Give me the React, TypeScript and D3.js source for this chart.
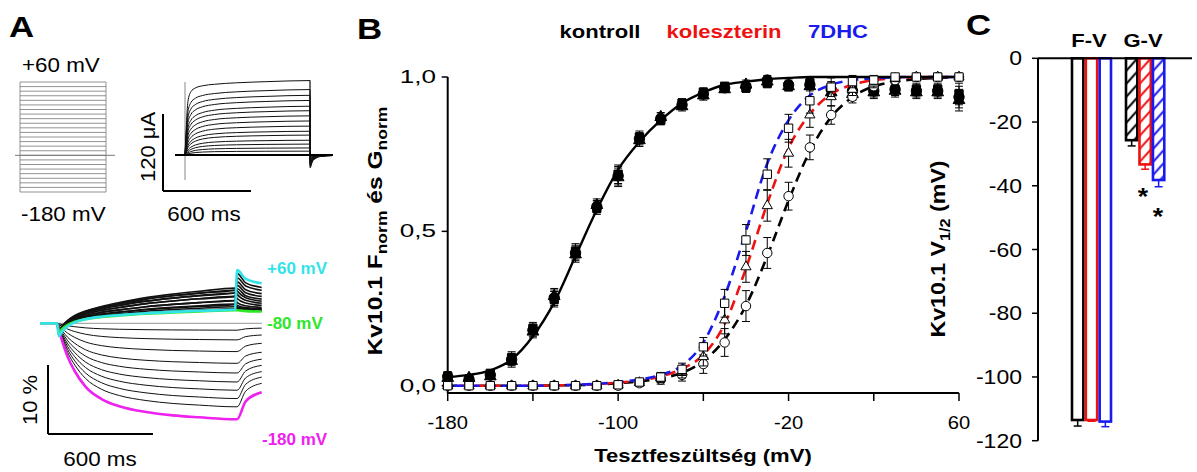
import React from "react";
import * as d3 from "d3";

const FONT = "'Liberation Sans', Arial, sans-serif";
const RED = "#ee1111";
const BLUE = "#1a1aee";
const CYAN = "#33e3ea";
const GREEN = "#2ee62a";
const MAGENTA = "#ee22ee";

// ---------- panel B: F-V and G-V ----------
const voltages = [-180, -170, -160, -150, -140, -130, -120, -110, -100, -90, -80, -70, -60, -50, -40, -30, -20, -10, 0, 10, 20, 30, 40, 50, 60];
const fvKontroll = [0.03, 0.02, 0.035, 0.085, 0.18, 0.285, 0.43, 0.58, 0.68, 0.8, 0.865, 0.91, 0.945, 0.965, 0.97, 0.99, 0.975, 0.975, 0.96, 0.955, 0.955, 0.96, 0.955, 0.955, 0.935];
const fvKoleszterin = [0.025, 0.025, 0.03, 0.08, 0.175, 0.29, 0.425, 0.585, 0.675, 0.795, 0.87, 0.905, 0.94, 0.96, 0.975, 0.985, 0.97, 0.97, 0.95, 0.945, 0.95, 0.955, 0.95, 0.95, 0.925];
const fv7dhc = [0.03, 0.02, 0.04, 0.09, 0.185, 0.28, 0.435, 0.575, 0.685, 0.805, 0.86, 0.915, 0.95, 0.97, 0.965, 0.98, 0.97, 0.98, 0.965, 0.96, 0.96, 0.96, 0.96, 0.96, 0.945];
const fvErr = [0.015, 0.01, 0.01, 0.02, 0.02, 0.025, 0.025, 0.02, 0.03, 0.02, 0.015, 0.015, 0.015, 0.01, 0.015, 0.015, 0.015, 0.015, 0.02, 0.02, 0.02, 0.02, 0.02, 0.02, 0.035];

const gvKontroll = [0, 0, 0, 0, 0, 0, 0, 0, 0, 0.008, 0.02, 0.035, 0.07, 0.14, 0.258, 0.43, 0.614, 0.772, 0.877, 0.936, 0.97, 0.99, 1, 1, 1];
const gvKoleszterin = [0, 0, 0, 0, 0, 0, 0, 0, 0.002, 0.01, 0.025, 0.045, 0.094, 0.213, 0.385, 0.583, 0.753, 0.877, 0.936, 0.96, 0.98, 0.995, 1, 1, 1];
const gv7dhc = [0, 0, 0, 0, 0, 0, 0, 0, 0.003, 0.012, 0.028, 0.053, 0.126, 0.267, 0.472, 0.685, 0.834, 0.923, 0.967, 0.985, 0.99, 1, 1, 1, 1];
const gvErr = [0.005, 0.005, 0.005, 0.005, 0.005, 0.005, 0.005, 0.005, 0.008, 0.01, 0.015, 0.02, 0.03, 0.045, 0.05, 0.05, 0.045, 0.04, 0.03, 0.02, 0.015, 0.01, 0.01, 0.01, 0.01];

const fitFV = [0.028, 0.035, 0.05, 0.085, 0.16, 0.27, 0.42, 0.57, 0.7, 0.79, 0.86, 0.915, 0.95, 0.975, 0.985, 0.993, 0.997, 1, 1, 1, 1, 1, 1, 1, 1];
const fitGVKontroll = [0, 0, 0, 0, 0, 0.001, 0.002, 0.004, 0.008, 0.014, 0.024, 0.042, 0.08, 0.15, 0.26, 0.42, 0.6, 0.76, 0.87, 0.935, 0.97, 0.985, 0.993, 0.997, 1];
const fitGVKoleszterin = [0, 0, 0, 0, 0, 0.001, 0.002, 0.005, 0.01, 0.017, 0.03, 0.055, 0.1, 0.2, 0.38, 0.59, 0.77, 0.88, 0.945, 0.975, 0.99, 0.996, 0.999, 1, 1];
const fitGV7dhc = [0, 0, 0, 0, 0, 0.001, 0.003, 0.006, 0.012, 0.02, 0.035, 0.065, 0.14, 0.29, 0.5, 0.72, 0.86, 0.94, 0.975, 0.99, 0.996, 0.999, 1, 1, 1];

const xTicksB = [-180, -140, -100, -60, -20, 20, 60];
const xTickLabelsB = [-180, -100, -20, 60];
const yTicksB = [0, 0.5, 1];
const yTickLabelsB = ["0,0", "0,5", "1,0"];

// ---------- panel C: V1/2 ----------
const groups = ["kontroll", "koleszterin", "7DHC"];
const groupColors = ["#000000", RED, BLUE];
const v12FV = [-113.5, -113.5, -114];
const v12FVErr = [1.9, 0.4, 1.6];
const v12GV = [-25.7, -33.3, -38.2];
const v12GVErr = [1.8, 1.5, 2.1];
const yTicksC = [0, -20, -40, -60, -80, -100, -120];

// ---------- panel A ----------
const protocolLevels = [60, 50, 40, 30, 20, 10, 0, -10, -20, -30, -40, -50, -60, -70, -80, -90, -100, -110, -120, -130, -140, -150, -160, -170, -180];
const currentAmps = [116, 102, 93, 85, 76, 69, 61, 53, 45, 37, 31, 23, 17, 11, 6, 0, 0, 0, 0, 0, 0, 0, 0, 0, 0];
const currentTimes = [0, 8, 20, 40, 70, 120, 200, 350, 550, 850];
const currentFast = [0, 0.35, 0.72, 0.85, 0.9, 0.93, 0.95, 0.97, 0.985, 1];
const currentSlow = [0, 0.08, 0.25, 0.45, 0.62, 0.76, 0.86, 0.93, 0.97, 1];
const currentTailTimes = [851, 865, 890, 930, 1000];
const currentTail = [-20, -11, -5, -2, -1];

const fluorTimes = [0, 10, 30, 60, 100, 160, 250, 350, 500, 650, 800, 1000];
const fluorHypShape = [0, 0.07, 0.19, 0.35, 0.5, 0.66, 0.79, 0.865, 0.925, 0.96, 0.98, 1];
const fluorDepShape = [0, 0.05, 0.12, 0.2, 0.28, 0.37, 0.48, 0.59, 0.73, 0.83, 0.91, 1];
const fluorDepDip = [0, -1.4, -1.0, -0.6, -0.3, -0.1, 0, 0, 0, 0, 0, 0];
const fluorEnd = [2.0, 2.7, 3.3, 3.9, 4.4, 4.8, 5.1, 4.8, 4.4, 3.9, 3.3, 2.8, 2.4, 2.1, 1.9, -1.0, -2.4, -4.1, -5.8, -7.2, -8.5, -9.7, -10.9, -12.1, -13.9];
const fluorTailPeak = [7.7, 7.2, 6.6, 6.0, 5.5, 5.0, 4.7, 4.2, 3.6, 3.0, 2.6, 2.4, 2.2, 2.0, 1.9, -1.0, -2.4, -4.1, -5.8, -7.2, -8.5, -9.7, -10.9, -12.1, -13.9];
const fluorTailEnd = [5.8, 5.2, 4.8, 4.3, 3.9, 3.5, 3.2, 2.9, 2.6, 2.3, 2.1, 2.0, 1.9, 1.8, 1.7, -0.7, -1.7, -2.9, -4.2, -5.2, -6.1, -7.0, -7.8, -8.7, -10.0];

type P = [number, number];

// the figure's lettering is slightly stretched sideways
function Txt({ x, y, sx = 1.16, rotate = 0, anchor = "start", size = 18, weight = "normal", fill = "#000", children }: any) {
  const tr = `translate(${x},${y})${rotate ? ` rotate(${rotate})` : ""} scale(${sx},1)`;
  return (
    <text transform={tr} textAnchor={anchor} fontSize={size} fontWeight={weight} fill={fill}>
      {children}
    </text>
  );
}

function PanelA() {
  const yP = d3.scaleLinear().domain([-180, 60]).range([192, 82]);
  const xI = d3.scaleLinear().domain([0, 850]).range([185, 310]);
  const yI = d3.scaleLinear().domain([0, 120]).range([155, 78]);
  const lineI = d3.line<P>().x(d => xI(d[0])).y(d => yI(d[1])).curve(d3.curveMonotoneX);
  const maxAmp = d3.max(currentAmps) as number;
  const xF = d3.scaleLinear().domain([0, 1000]).range([57, 235]);
  const yF = d3.scaleLinear().domain([0, 10]).range([323.3, 254.3]);
  const lineF = d3.line<P>().x(d => xF(d[0])).y(d => yF(d[1])).curve(d3.curveMonotoneX);

  const fluorPts = (i: number): P[] => {
    const end = fluorEnd[i];
    const dep = end > 0;
    const pulse: P[] = fluorTimes.map((t, k) => [t, dep ? end * fluorDepShape[k] + fluorDepDip[k] * (i === 0 ? 1.4 : 1) : end * fluorHypShape[k]]);
    return [[-95, 0], ...pulse, [1012, fluorTailPeak[i]], [1060, (fluorTailPeak[i] + fluorTailEnd[i] * 2) / 3], [1150, fluorTailEnd[i]]];
  };
  const special: Record<number, string> = { 0: CYAN, 14: GREEN, 24: MAGENTA };

  return (
    <g fontFamily={FONT}>
      <Txt x={9} y={37} size={30} weight="bold">A</Txt>
      <Txt x={22} y={72} size={20} sx={1.12}>+60 mV</Txt>
      <Txt x={21} y={221} size={20} sx={1.12}>-180 mV</Txt>
      {protocolLevels.map(v => (
        <line key={v} x1={20} x2={106} y1={yP(v)} y2={yP(v)} stroke="#777" strokeWidth={0.8} />
      ))}
      <line x1={20} x2={20} y1={yP(60)} y2={yP(-180)} stroke="#777" strokeWidth={0.8} />
      <line x1={106} x2={106} y1={yP(60)} y2={yP(-180)} stroke="#777" strokeWidth={0.8} />
      <line x1={15} x2={115} y1={yP(-100)} y2={yP(-100)} stroke="#777" strokeWidth={1} />

      <line x1={185} x2={185} y1={82} y2={180} stroke="#888" strokeWidth={1} />
      <line x1={310} x2={310} y1={80} y2={155} stroke="#888" strokeWidth={1} />
      {currentAmps.map((a, i) => {
        if (a === 0) return null;
        const w = a / maxAmp;
        const pts: P[] = currentTimes.map((t, k) => [t, a * (w * currentFast[k] + (1 - w) * currentSlow[k])]);
        const tail: P[] = currentTailTimes.map((t, k) => [t, currentTail[k] * w]);
        return <path key={i} d={lineI([...pts, ...tail]) as string} fill="none" stroke="#111" strokeWidth={1} />;
      })}
      <line x1={175} x2={333} y1={155} y2={155} stroke="#000" strokeWidth={2} />
      <line x1={163} x2={163} y1={114} y2={191} stroke="#000" strokeWidth={2} />
      <line x1={163} x2={251} y1={191} y2={191} stroke="#000" strokeWidth={2} />
      <Txt x={155} y={147} rotate={-90} anchor="middle" size={20} sx={1.1}>120 μA</Txt>
      <Txt x={204} y={221} anchor="middle" size={20} sx={1.12}>600 ms</Txt>

      <line x1={57} x2={262} y1={323.3} y2={323.3} stroke="#777" strokeWidth={0.8} />
      {fluorEnd.map((_, i) => (special[i] || fluorEnd[i] > 0 ? null :
        <path key={"h" + i} d={lineF(fluorPts(i)) as string} fill="none" stroke="#111" strokeWidth={1} />
      ))}
      {fluorEnd.map((_, i) => (special[i] || fluorEnd[i] < 0 ? null :
        <path key={"d" + i} d={lineF(fluorPts(i)) as string} fill="none" stroke="#111" strokeWidth={1.6} />
      ))}
      {[24, 14, 0].map(i => (
        <path key={"s" + i} d={lineF(fluorPts(i)) as string} fill="none" stroke={special[i]} strokeWidth={2.6} />
      ))}
      <Txt x={267} y={274} size={17} weight="bold" fill={CYAN} sx={1}>+60 mV</Txt>
      <Txt x={267} y={329} size={17} weight="bold" fill={GREEN} sx={1}>-80 mV</Txt>
      <Txt x={262} y={445} size={17} weight="bold" fill={MAGENTA} sx={1}>-180 mV</Txt>
      <line x1={48} x2={48} y1={365} y2={434} stroke="#000" strokeWidth={2} />
      <line x1={48} x2={153} y1={434} y2={434} stroke="#000" strokeWidth={2} />
      <Txt x={37} y={400} rotate={-90} anchor="middle" size={20} sx={1.1}>10 %</Txt>
      <Txt x={100} y={466} anchor="middle" size={20} sx={1.12}>600 ms</Txt>
    </g>
  );
}

function PanelB() {
  const xB = d3.scaleLinear().domain([-180, 60]).range([447.7, 959]);
  const yB = d3.scaleLinear().domain([0, 1]).range([385.7, 77]);
  const axisY = 393;
  const line = d3.line<P>().x(d => xB(d[0])).y(d => yB(d[1])).curve(d3.curveMonotoneX);
  const pts = (vals: number[]): P[] => voltages.map((v, i) => [v, vals[i]]);

  const sym = (type: d3.SymbolType, size: number) => d3.symbol().type(type).size(size)() as string;
  const markers = (vals: number[], errs: number[], type: d3.SymbolType, size: number, fill: string, key: string) => (
    <g key={key}>
      {voltages.map((v, i) => {
        const x = xB(v);
        const e = errs[i];
        return (
          <g key={v}>
            <line x1={x} x2={x} y1={yB(vals[i] + e)} y2={yB(vals[i] - e)} stroke="#000" strokeWidth={1} />
            <line x1={x - 4} x2={x + 4} y1={yB(vals[i] + e)} y2={yB(vals[i] + e)} stroke="#000" strokeWidth={1} />
            <line x1={x - 4} x2={x + 4} y1={yB(vals[i] - e)} y2={yB(vals[i] - e)} stroke="#000" strokeWidth={1} />
            <path d={sym(type, size)} transform={`translate(${x},${yB(vals[i])})`} fill={fill} stroke="#000" strokeWidth={1} />
          </g>
        );
      })}
    </g>
  );

  return (
    <g fontFamily={FONT}>
      <Txt x={357} y={39} size={30} weight="bold">B</Txt>
      <Txt x={600} y={38} anchor="middle" size={19} weight="bold">kontroll</Txt>
      <Txt x={724} y={38} anchor="middle" size={19} weight="bold" fill={RED}>koleszterin</Txt>
      <Txt x={838} y={38} anchor="middle" size={19} weight="bold" fill={BLUE}>7DHC</Txt>

      <line x1={xB(-180)} x2={xB(-180)} y1={yB(1)} y2={axisY} stroke="#000" strokeWidth={2} />
      <line x1={xB(-180)} x2={xB(60)} y1={axisY} y2={axisY} stroke="#000" strokeWidth={2} />
      {yTicksB.map((t, i) => (
        <g key={t}>
          <line x1={xB(-180) - 6} x2={xB(-180)} y1={yB(t)} y2={yB(t)} stroke="#000" strokeWidth={1.5} />
          <Txt x={436} y={yB(t) + 6} anchor="end" size={18} sx={1.45}>{yTickLabelsB[i]}</Txt>
        </g>
      ))}
      {xTicksB.map(t => (
        <line key={t} x1={xB(t)} x2={xB(t)} y1={axisY} y2={axisY + 8} stroke="#000" strokeWidth={1.5} />
      ))}
      {xTickLabelsB.map(t => (
        <Txt key={t} x={xB(t)} y={429} anchor="middle" size={18} sx={1.12}>{t}</Txt>
      ))}
      <Txt x={703} y={462} anchor="middle" size={19} weight="bold">Tesztfeszültség (mV)</Txt>
      <Txt x={382} y={231} rotate={-90} anchor="middle" size={21} weight="bold" sx={1.17}>
        Kv10.1 F<tspan fontSize={15} dy={5}>norm</tspan><tspan dy={-5}> és G</tspan><tspan fontSize={15} dy={5}>norm</tspan>
      </Txt>

      {markers(fvKontroll, fvErr, d3.symbolCircle, 85, "#000", "fk")}
      {markers(fvKoleszterin, fvErr, d3.symbolTriangle, 60, "#000", "fc")}
      {markers(fv7dhc, fvErr, d3.symbolSquare, 70, "#000", "fd")}

      <path d={line(pts(fitGVKontroll)) as string} fill="none" stroke="#000" strokeWidth={2.6} strokeDasharray="10,6" />
      <path d={line(pts(fitGVKoleszterin)) as string} fill="none" stroke={RED} strokeWidth={2.6} strokeDasharray="10,6" strokeDashoffset={5} />
      <path d={line(pts(fitGV7dhc)) as string} fill="none" stroke={BLUE} strokeWidth={2.6} strokeDasharray="10,6" strokeDashoffset={10} />
      <path d={line(pts(fitFV)) as string} fill="none" stroke="#000" strokeWidth={2.4} />

      {markers(gvKontroll, gvErr, d3.symbolCircle, 70, "#fff", "gk")}
      {markers(gvKoleszterin, gvErr, d3.symbolTriangle, 45, "#fff", "gc")}
      {markers(gv7dhc, gvErr, d3.symbolSquare, 70, "#fff", "gd")}
    </g>
  );
}

function PanelC() {
  const yC = d3.scaleLinear().domain([0, -120]).range([58.3, 440.7]);
  const axisX = 1038;
  const bandFV = d3.scaleBand<string>().domain(groups).range([1072, 1111]).paddingInner(0.18);
  const bandGV = d3.scaleBand<string>().domain(groups).range([1126, 1164]).paddingInner(0.18);
  const bw = bandFV.bandwidth();

  const errBar = (x: number, v: number, e: number, color: string) => (
    <g>
      <line x1={x} x2={x} y1={yC(v)} y2={yC(v - e)} stroke={color} strokeWidth={1.5} />
      <line x1={x - 4} x2={x + 4} y1={yC(v - e)} y2={yC(v - e)} stroke={color} strokeWidth={1.5} />
    </g>
  );

  return (
    <g fontFamily={FONT}>
      <defs>
        {groups.map((g, i) => (
          <pattern key={g} id={`hatch${i}`} patternUnits="userSpaceOnUse" x={bandGV(g) as number} y={yC(0)} width={bw} height={13}>
            <path d={`M-2,15 L${bw + 2},-2 M-2,2 L2,-2 M${bw - 2},15 L${bw + 2},11`} stroke={groupColors[i]} strokeWidth={2} />
          </pattern>
        ))}
      </defs>
      <Txt x={966} y={35} size={30} weight="bold">C</Txt>
      <Txt x={1089} y={47} anchor="middle" size={19} weight="bold">F-V</Txt>
      <Txt x={1143} y={47} anchor="middle" size={19} weight="bold">G-V</Txt>
      <Txt x={945} y={249} rotate={-90} anchor="middle" size={20} weight="bold">
        Kv10.1 V<tspan fontSize={14} dy={5}>1/2</tspan><tspan dy={-5}> (mV)</tspan>
      </Txt>

      {groups.map((g, i) => {
        const x = bandFV(g) as number;
        return (
          <g key={"fv" + g}>
            {errBar(x + bw / 2, v12FV[i], v12FVErr[i], groupColors[i])}
            <rect x={x} y={yC(0)} width={bw} height={yC(v12FV[i]) - yC(0)} fill="#fff" stroke={groupColors[i]} strokeWidth={2.6} />
          </g>
        );
      })}
      {groups.map((g, i) => {
        const x = bandGV(g) as number;
        return (
          <g key={"gv" + g}>
            {errBar(x + bw / 2, v12GV[i], v12GVErr[i], groupColors[i])}
            <rect x={x} y={yC(0)} width={bw} height={yC(v12GV[i]) - yC(0)} fill={`url(#hatch${i})`} stroke={groupColors[i]} strokeWidth={2.6} />
          </g>
        );
      })}
      <Txt x={1143} y={205} anchor="middle" size={23} weight="bold">*</Txt>
      <Txt x={1158} y={225} anchor="middle" size={23} weight="bold">*</Txt>

      <line x1={axisX} x2={axisX} y1={yC(0)} y2={yC(-120)} stroke="#000" strokeWidth={2} />
      <line x1={axisX} x2={1192} y1={yC(0)} y2={yC(0)} stroke="#000" strokeWidth={2} />
      {yTicksC.map(t => (
        <g key={t}>
          <line x1={axisX - 6} x2={axisX} y1={yC(t)} y2={yC(t)} stroke="#000" strokeWidth={1.5} />
          <Txt x={1022} y={yC(t) + 7} anchor="end" size={20} sx={1.15}>{t}</Txt>
        </g>
      ))}
    </g>
  );
}

export default function App() {
  return (
    <svg width={1197} height={472} style={{ position: "absolute", left: 0, top: 0, background: "#fff" }}>
      <rect width={1197} height={472} fill="#fff" />
      <PanelA />
      <PanelB />
      <PanelC />
    </svg>
  );
}
